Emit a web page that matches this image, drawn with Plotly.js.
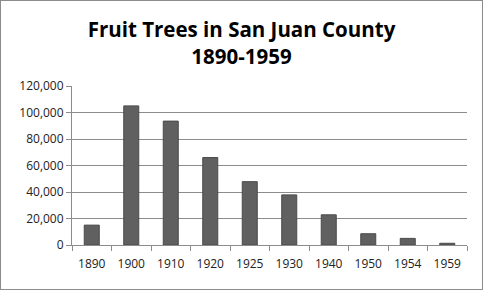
<!DOCTYPE html>
<html>
<head>
<meta charset="utf-8">
<script src="https://cdn.plot.ly/plotly-3.0.1.min.js"></script>
<style>
  html, body { margin: 0; padding: 0; background: #fff; }
  #chart { width: 481px; height: 288px; border: 1px solid #8c8c8c; box-sizing: content-box; }
</style>
</head>
<body>
<div id="chart"></div>
<script>
const years = ["1890", "1900", "1910", "1920", "1925", "1930", "1940", "1950", "1954", "1959"];
const trees = [15000, 105000, 93500, 66000, 47800, 37800, 22800, 8500, 5000, 1300];
const yTicks = [0, 20000, 40000, 60000, 80000, 100000, 120000];
const yTickLabels = ["0", "20,000", "40,000", "60,000", "80,000", "100,000", "120,000"];
const titleText = "Fruit Trees in San Juan County<br>1890-1959";

const trace = {
  type: "bar",
  x: years,
  y: trees,
  marker: { color: "#606060", line: { color: "#4a4a4a", width: 1 } },
  hoverinfo: "skip"
};

const layout = {
  width: 481,
  height: 288,
  margin: { l: 71, r: 15, t: 85, b: 44 },
  paper_bgcolor: "#ffffff",
  plot_bgcolor: "#ffffff",
  bargap: 0.62,
  showlegend: false,
  font: { family: "Open Sans, sans-serif", color: "#222" },
  title: {
    text: titleText,
    font: { family: "Open Sans, sans-serif", size: 20.5, color: "#000", weight: "bold" },
    x: 0.5, xanchor: "center",
    xref: "container",
    yref: "container",
    y: 0.875, yanchor: "middle"
  },
  xaxis: {
    type: "category",
    showgrid: false,
    showline: true,
    linecolor: "#8c8c8c",
    linewidth: 1,
    ticks: "outside",
    tickson: "boundaries",
    ticklen: 5,
    tickcolor: "#8c8c8c",
    ticklabelstandoff: 8,
    tickfont: { size: 12, color: "#222" },
    fixedrange: true
  },
  yaxis: {
    range: [0, 120000],
    tickvals: yTicks,
    ticktext: yTickLabels,
    showgrid: true,
    gridcolor: "#8c8c8c",
    gridwidth: 1,
    showline: true,
    linecolor: "#8c8c8c",
    ticks: "outside",
    ticklen: 5,
    tickcolor: "#8c8c8c",
    tickfont: { size: 12, color: "#222" },
    zeroline: false,
    fixedrange: true
  }
};

Plotly.newPlot("chart", [trace], layout, { displayModeBar: false, staticPlot: true });
</script>
</body>
</html>
